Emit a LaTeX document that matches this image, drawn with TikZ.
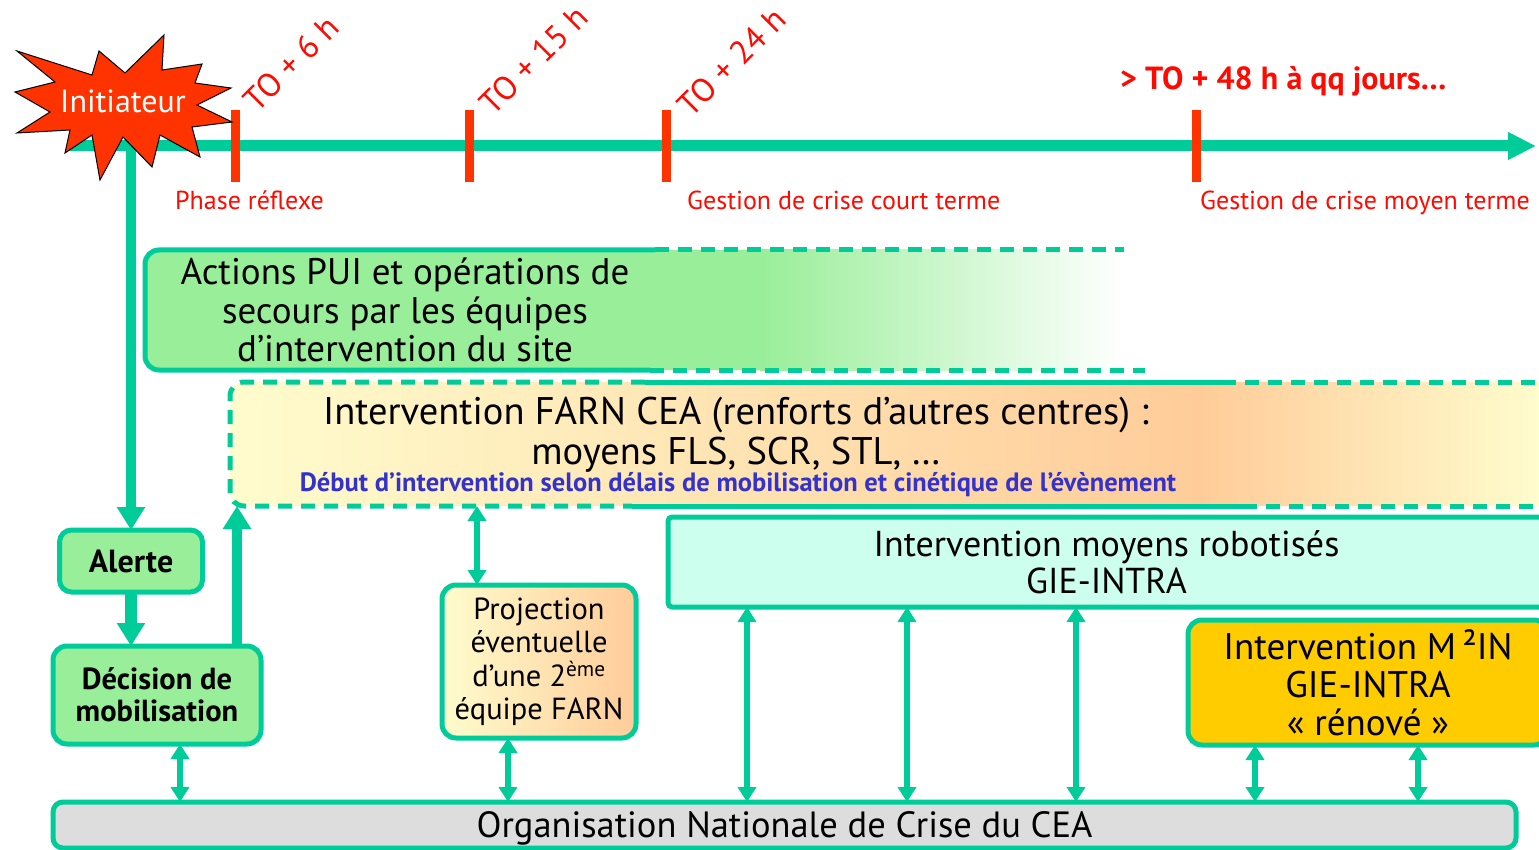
\documentclass[tikz,border=0pt]{standalone}
\usepackage{fontspec}
\setmainfont{PT Sans}
\usetikzlibrary{arrows.meta,calc}
\pgfdeclarelayer{bg}
\pgfsetlayers{bg,main}
\definecolor{tq}{RGB}{0,204,153}
\definecolor{tickred}{RGB}{255,51,0}
\definecolor{redtxt}{RGB}{255,10,0}
\definecolor{lgreen}{RGB}{153,238,153}
\definecolor{pale}{RGB}{255,252,205}
\definecolor{peach}{RGB}{255,204,153}
\definecolor{cyanbox}{RGB}{204,255,238}
\definecolor{gold}{RGB}{255,204,0}
\definecolor{greybox}{RGB}{221,221,221}
\definecolor{bluetxt}{RGB}{51,51,204}
\tikzset{
  fs/.style 2 args={font=\fontsize{#1}{#2}\selectfont},
  fsb/.style 2 args={font=\bfseries\fontsize{#1}{#2}\selectfont},
  boxline/.style={draw=tq, line width=5pt, inner sep=0pt, outer sep=0pt, align=center},
  plain/.style={inner sep=0pt, outer sep=0pt, align=center},
  dashline/.style={tq, line width=5pt, dash pattern=on 14pt off 9pt},
  solidline/.style={tq, line width=5pt},
  bigarrow/.style={tq, line width=#1, -{Triangle[width=27pt,length=23pt]}},
  dblarrow/.style={tq, line width=6pt, {Triangle[width=18pt,length=15pt]}-{Triangle[width=18pt,length=15pt]}},
  tickmark/.style={tickred, line width=9pt},
  redlabel/.style={text=redtxt, fs={26}{30}, inner sep=0pt},
  tolabel/.style={text=redtxt, fs={33}{34}, rotate=45, anchor=south west, inner sep=0pt},
}
\begin{document}
\begin{tikzpicture}[x=1pt,y=-1pt]
\useasboundingbox (0,0) rectangle (1539,850);

% ---------- boxes ----------
\node[plain, minimum width=520pt, minimum height=120pt, fs={37}{38.5}] (actions) at (405,310)
  {Actions PUI et opérations de\\secours par les équipes\\d'intervention du site};
\node[plain, minimum width=1010pt, minimum height=124pt] (farn) at (735,444) {};
\node[plain, fs={38.5}{40}] (farntxt) at (736,435)
  {Intervention FARN CEA (renforts d'autres centres) :\\moyens FLS, SCR, STL, …};
\node[plain, text=bluetxt, fsb={26.5}{28}] (farnsub) at (738,485)
  {Début d'intervention selon délais de mobilisation et cinétique de l'évènement};
\node[boxline, fill=cyanbox, rounded corners=4pt, minimum width=877pt, minimum height=90pt, fs={36}{37}] (robot) at (1106.5,562)
  {Intervention moyens robotisés\\GIE-INTRA};
\node[boxline, fill=gold, rounded corners=14pt, minimum width=360pt, minimum height=125pt, fs={37}{38}] (m2in) at (1368,682.5)
  {Intervention M\,²IN\\GIE-INTRA\\«~rénové~»};
\node[boxline, fill=lgreen, rounded corners=12pt, minimum width=143pt, minimum height=62pt, fsb={32}{34}] (alerte) at (131,561) {Alerte};
\node[boxline, fill=lgreen, rounded corners=14pt, minimum width=208pt, minimum height=98pt, fsb={30.5}{32}] (decision) at (157,695)
  {Décision de\\mobilisation};
\node[boxline, left color=pale, right color=peach, rounded corners=14pt, minimum width=194pt, minimum height=153pt, fs={30.5}{33.5}] (proj) at (539,661.5)
  {Projection\\éventuelle\\d'une 2\textsuperscript{ème}\\équipe FARN};
\node[boxline, fill=greybox, rounded corners=10pt, minimum width=1463pt, minimum height=46pt] (org) at (784.5,825) {};
\node[plain, fs={36.5}{38}] (orgtxt) at (784.5,828) {Organisation Nationale de Crise du CEA};

% ---------- backgrounds ----------
\begin{pgfonlayer}{bg}
  \fill[white] (0,0) rectangle (1539,850);
  \fill[lgreen, rounded corners=14pt] (actions.north west) rectangle (780,370);
  \shade[left color=lgreen, right color=white] (760,250) rectangle (1124,370);
  \begin{scope}
    \clip[rounded corners=14pt] (farn.north west) rectangle (1570,506);
    \shade[left color=pale, right color=peach] (230,382) rectangle (1200,506);
    \shade[left color=peach, right color=pale] (1200,382) rectangle (1539,506);
  \end{scope}
\end{pgfonlayer}

% ---------- borders of the open boxes ----------
\draw[solidline, rounded corners=14pt] ($(actions.north east)+(-10,0)$) -- (actions.north west) -- (actions.south west) -- ($(actions.south east)+(-15,0)$);
\draw[dashline] ($(actions.north east)+(-10,0)$) -- (1124,250);
\draw[dashline] ($(actions.south east)+(-15,0)$) -- (1145,370);
\draw[dashline, rounded corners=14pt] (645,382) -- (farn.north west) -- (farn.south west) -- (632,506);
\draw[solidline] (645,382) -- (1222,382);
\draw[solidline] (632,506) -- (1243,506);
\draw[dashline] (1222,382) -- (1570,382);
\draw[dashline] (1243,506) -- (1570,506);

% ---------- timeline ----------
\coordinate (tlstart) at (70,146);
\coordinate (tlend) at (1536,146);
\draw[tq, line width=11pt, -{Triangle[width=26pt,length=28pt]}] (tlstart) -- (tlend);
\foreach \x in {235,469,666,1196} \draw[tickmark] (\x,110) -- (\x,182);
\draw[bigarrow=10pt] (alerte.north |- tlstart) -- (alerte.north);

% ---------- initiator ----------
\draw[fill=tickred, draw=black, line width=1pt]
  (17,51) -- (92,75) -- (99,51) -- (125,73) -- (164,35) -- (162,70) -- (202,64) -- (195,83)
  -- (231,88) -- (197,105) -- (232,122) -- (192,127) -- (200,157) -- (160,135) -- (152,167)
  -- (123,137) -- (100,180) -- (92,135) -- (65,153) -- (70,130) -- (17,133) -- (50,112)
  -- (15,92) -- (55,82) -- cycle;
\node[text=white, fs={32}{34}, inner sep=0pt] (init) at (123,101) {Initiateur};

% ---------- time labels ----------
\node[tolabel] (to6) at (258,114) {TO + 6 h};
\node[tolabel] (to15) at (494,117) {TO + 15 h};
\node[tolabel] (to24) at (692,119) {TO + 24 h};
\node[redlabel, fsb={32}{34}, anchor=base west] (to48) at (1120,90) {> TO + 48 h à qq jours…};
\node[redlabel, anchor=base west] (ph1) at (175,210) {Phase réflexe};
\node[redlabel, anchor=base west] (ph2) at (687,210) {Gestion de crise court terme};
\node[redlabel, anchor=base west] (ph3) at (1200,210) {Gestion de crise moyen terme};

% ---------- arrows ----------
\coordinate (x180) at (180,0);
\coordinate (x237) at (237,0);
\coordinate (x477) at (477,0);
\coordinate (x508) at (508,0);
\coordinate (x747) at (747,0);
\coordinate (x907) at (907,0);
\coordinate (x1076) at (1076,0);
\coordinate (x1255) at (1255,0);
\coordinate (x1418) at (1418,0);
\draw[bigarrow=12pt] (alerte.south) -- (alerte.south |- decision.north);
\draw[bigarrow=10pt] (decision.north -| x237) -- (farn.south -| x237);
\draw[dblarrow] (farn.south -| x477) -- (proj.north -| x477);
\draw[dblarrow] (proj.south -| x508) -- (org.north -| x508);
\draw[dblarrow] (decision.south -| x180) -- (org.north -| x180);
\draw[dblarrow] (robot.south -| x747) -- (org.north -| x747);
\draw[dblarrow] (robot.south -| x907) -- (org.north -| x907);
\draw[dblarrow] (robot.south -| x1076) -- (org.north -| x1076);
\draw[dblarrow] (m2in.south -| x1255) -- (org.north -| x1255);
\draw[dblarrow] (m2in.south -| x1418) -- (org.north -| x1418);
\end{tikzpicture}
\end{document}
